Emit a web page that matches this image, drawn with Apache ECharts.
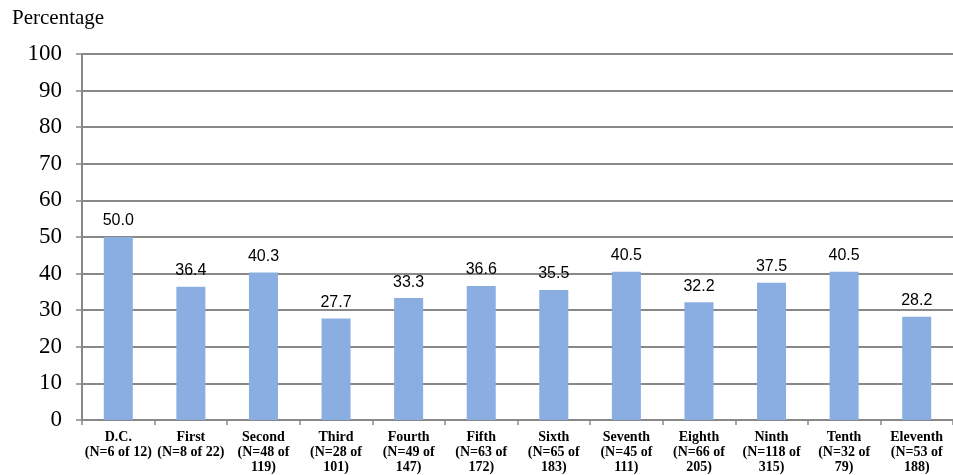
<!DOCTYPE html>
<html><head><meta charset="utf-8">
<script src="https://cdn.jsdelivr.net/npm/echarts@6/dist/echarts.min.js"></script>
<style>html,body{margin:0;padding:0;background:#fff}#c{width:953px;height:475px}</style>
</head><body><div id="c"></div>
<script>
const categories = ['D.C.','First','Second','Third','Fourth','Fifth','Sixth','Seventh','Eighth','Ninth','Tenth','Eleventh'];
const nLabels = ['(N=6 of 12)','(N=8 of 22)','(N=48 of\n119)','(N=28 of\n101)','(N=49 of\n147)','(N=63 of\n172)','(N=65 of\n183)','(N=45 of\n111)','(N=66 of\n205)','(N=118 of\n315)','(N=32 of\n79)','(N=53 of\n188)'];
const values = [50.0,36.4,40.3,27.7,33.3,36.6,35.5,40.5,32.2,37.5,40.5,28.2];
const yTicks = [0,10,20,30,40,50,60,70,80,90,100];
const labels = categories.map((c,i)=>c+'\n'+nLabels[i]);
const chart = echarts.init(document.getElementById('c'));
chart.setOption({
  animation:false,
  graphic:[{type:'text',left:12,top:8,style:{text:'Percentage',font:'21px "Liberation Serif"',fill:'#000'}}],
  grid:{left:82,right:-3,top:54,bottom:55,containLabel:false},
  xAxis:{type:'category',data:labels,
    axisLine:{lineStyle:{color:'#888',width:2}},
    axisTick:{show:true,length:5,lineStyle:{color:'#888',width:1.5}},
    axisLabel:{interval:0,margin:10,color:'#000',fontFamily:'Liberation Serif',fontSize:14,lineHeight:15,fontWeight:'bold'}},
  yAxis:{type:'value',min:yTicks[0],max:yTicks[yTicks.length-1],interval:10,
    axisLine:{show:true,lineStyle:{color:'#888',width:2}},
    axisTick:{show:true,length:6,lineStyle:{color:'#888',width:1.5}},
    axisLabel:{color:'#000',fontFamily:'Liberation Serif',fontSize:23,margin:20},
    splitLine:{lineStyle:{color:'#888',width:2}}},
  series:[{type:'bar',data:values,barWidth:'40%',
    itemStyle:{color:'#8AAEE1'},
    label:{show:true,position:'top',distance:8,color:'#000',fontFamily:'Liberation Sans',fontSize:16,
      formatter:p=>p.value.toFixed(1)}}]
});
</script></body></html>
